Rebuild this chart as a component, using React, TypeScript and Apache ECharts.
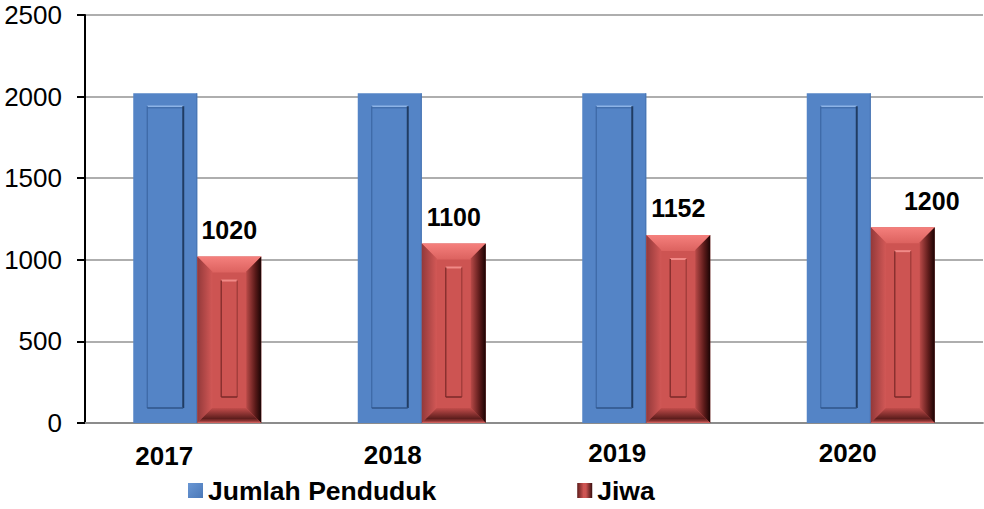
import React, { useEffect, useRef } from "react";
import * as echarts from "echarts";

const categories = ["2017", "2018", "2019", "2020"];
const jumlahPenduduk = [2020, 2020, 2020, 2020];
const jiwa = [1020, 1100, 1152, 1200];
const yTicks = { min: 0, max: 2500, interval: 500 };

// layout-only helpers (not data)
const labelShiftX = [66, 58, 58, 46];
const labelPadTop = [6, 4, 0, 0];
const valueLabelOffsetX = [0, 0, 0, 29];

const FONT = "'Liberation Sans', Arial, sans-serif";
const BW = 64;
const BLUE = "#5484C6";
const RED = "#CD5452";

const lg = (x1: number, y1: number, x2: number, y2: number, stops: [number, string][]) =>
  new echarts.graphic.LinearGradient(x1, y1, x2, y2, stops.map(([offset, color]) => ({ offset, color })));

export default function App() {
  const ref = useRef<HTMLDivElement>(null);
  useEffect(() => {
    if (!ref.current) return;
    const chart = echarts.init(ref.current, undefined, { renderer: "svg" });

    const blueOverlay = (params: any, api: any) => {
      const idx = api.value(0);
      const val = api.value(1);
      const top = api.coord([idx, val]);
      const base = api.coord([idx, 0]);
      const x0 = top[0] - BW;
      const x1 = x0 + BW;
      const y0 = top[1];
      const y1 = base[1];
      const ix0 = x0 + 14, ix1 = x1 - 14, iy0 = y0 + 13, iy1 = y1 - 15;
      return {
        type: "group",
        children: [
          { type: "line", shape: { x1: x1 - 0.5, y1: y0, x2: x1 - 0.5, y2: y1 }, style: { stroke: "#4673b0", lineWidth: 1 } },
          { type: "line", shape: { x1: ix0, y1: iy0, x2: ix1, y2: iy0 }, style: { stroke: "#8db3e6", lineWidth: 1.5 } },
          { type: "line", shape: { x1: ix0, y1: iy0 + 1.5, x2: ix1, y2: iy0 + 1.5 }, style: { stroke: "#3d68a3", lineWidth: 1 } },
          { type: "line", shape: { x1: ix0, y1: iy0, x2: ix0, y2: iy1 }, style: { stroke: "#3c67a4", lineWidth: 1.2 } },
          { type: "line", shape: { x1: ix1, y1: iy0, x2: ix1, y2: iy1 }, style: { stroke: "#203c63", lineWidth: 2 } },
          { type: "line", shape: { x1: ix0, y1: iy1, x2: ix1, y2: iy1 }, style: { stroke: "#2f5488", lineWidth: 1.5 } },
        ],
      };
    };

    const redOverlay = (params: any, api: any) => {
      const idx = api.value(0);
      const val = api.value(1);
      const top = api.coord([idx, val]);
      const base = api.coord([idx, 0]);
      const x0 = top[0];
      const x1 = x0 + BW;
      const y0 = top[1];
      const y1 = base[1];
      const b = 15;
      const ix0 = x0 + 24, ix1 = x1 - 24, iy0 = y0 + 24, iy1 = y1 - 26;
      return {
        type: "group",
        children: [
          {
            type: "polygon",
            shape: { points: [[x0, y0], [x1, y0], [x1 - b, y0 + b + 1], [x0 + b, y0 + b + 1]] },
            style: { fill: lg(0, 0, 0, 1, [[0, "#f5807d"], [1, "#dc625f"]]) },
          },
          {
            type: "polygon",
            shape: { points: [[x0, y0], [x0 + b, y0 + b], [x0 + b, y1 - b], [x0, y1]] },
            style: { fill: lg(0, 0, 1, 0, [[0, "#93393a"], [1, "#d25856"]]) },
          },
          {
            type: "polygon",
            shape: { points: [[x1, y0], [x1, y1], [x1 - b, y1 - b], [x1 - b, y0 + b]] },
            style: { fill: lg(0, 0, 1, 0, [[0, "#b94a48"], [0.6, "#5a1a19"], [1, "#1a0404"]]) },
          },
          {
            type: "polygon",
            shape: { points: [[x0, y1], [x1, y1], [x1 - b, y1 - b], [x0 + b, y1 - b]] },
            style: { fill: lg(0, 0, 0, 1, [[0, "#c24d4b"], [0.7, "#5e1e1d"], [0.86, "#8f3634"], [1, "#e06b68"]]) },
          },
          { type: "line", shape: { x1: ix0, y1: iy0, x2: ix1, y2: iy0 }, style: { stroke: "#f08a87", lineWidth: 2 } },
          { type: "line", shape: { x1: ix0, y1: iy0, x2: ix0, y2: iy1 }, style: { stroke: "#8a302f", lineWidth: 1.5 } },
          { type: "line", shape: { x1: ix1, y1: iy0, x2: ix1, y2: iy1 }, style: { stroke: "#a53e3c", lineWidth: 1.5 } },
          { type: "line", shape: { x1: ix0, y1: iy1, x2: ix1, y2: iy1 }, style: { stroke: "#7a2928", lineWidth: 1.5 } },
        ],
      };
    };

    chart.setOption({
      animation: false,
      textStyle: { fontFamily: FONT },
      grid: { left: 85, right: 1, top: 15, bottom: 86, containLabel: false },
      legend: {
        left: 188,
        top: 477,
        padding: 0,
        itemWidth: 15,
        itemHeight: 15,
        itemGap: 141,
        textStyle: { fontFamily: FONT, fontSize: 26.5, fontWeight: "bold", color: "#000" },
        data: [
          { name: "Jumlah Penduduk", icon: "rect", itemStyle: { color: lg(0, 0, 1, 1, [[0, "#6a97d4"], [1, "#4a78b8"]]) } },
          {
            name: "Jiwa",
            icon: "rect",
            itemStyle: { color: lg(0, 0, 1, 0, [[0, "#5e1c1b"], [0.42, "#cd5452"], [0.58, "#cd5452"], [1, "#3a0f0f"]]) },
          },
        ],
      },
      xAxis: {
        type: "category",
        data: categories,
        axisLine: { show: true, lineStyle: { color: "#8c8c8c", width: 1.8 } },
        axisTick: { show: false },
        axisLabel: {
          margin: 17,
          formatter: (v: string, i: number) => `{l${i}|${v}}`,
          rich: Object.fromEntries(
            categories.map((_, i) => [
              `l${i}`,
              {
                fontFamily: FONT,
                fontSize: 26,
                fontWeight: "bold",
                color: "#000",
                lineHeight: 26,
                padding: [labelPadTop[i], labelShiftX[i], 0, 0],
              },
            ])
          ),
        },
      },
      yAxis: {
        type: "value",
        min: yTicks.min,
        max: yTicks.max,
        interval: yTicks.interval,
        axisLine: { show: true, lineStyle: { color: "#000", width: 2 } },
        axisTick: { show: true, length: 8, lineStyle: { color: "#000", width: 2 } },
        axisLabel: { margin: 23, fontFamily: FONT, fontSize: 26, color: "#000", formatter: (v: number) => String(v) },
        splitLine: { lineStyle: { color: "#939393", width: 1.5 } },
      },
      series: [
        {
          name: "Jumlah Penduduk",
          type: "bar",
          data: jumlahPenduduk,
          barWidth: BW,
          barGap: "0%",
          itemStyle: { color: BLUE },
          z: 2,
        },
        {
          name: "Jiwa",
          type: "bar",
          data: jiwa.map((v, i) => ({ value: v, label: { offset: [valueLabelOffsetX[i], 0] } })),
          barWidth: BW,
          barGap: "0%",
          itemStyle: { color: RED },
          label: {
            show: true,
            position: "top",
            distance: 14,
            fontFamily: FONT,
            fontSize: 25,
            fontWeight: "bold",
            color: "#000",
          },
          z: 2,
        },
        {
          name: "blueBevel",
          type: "custom",
          data: jumlahPenduduk.map((v, i) => [i, v]),
          encode: { x: 0, y: 1 },
          renderItem: blueOverlay,
          silent: true,
          z: 3,
        },
        {
          name: "redBevel",
          type: "custom",
          data: jiwa.map((v, i) => [i, v]),
          encode: { x: 0, y: 1 },
          renderItem: redOverlay,
          silent: true,
          z: 3,
        },
      ],
    });
    return () => chart.dispose();
  }, []);
  return (
    <div
      ref={ref}
      style={{ position: "fixed", left: 0, top: 0, width: 984, height: 509, background: "#fff" }}
    />
  );
}
